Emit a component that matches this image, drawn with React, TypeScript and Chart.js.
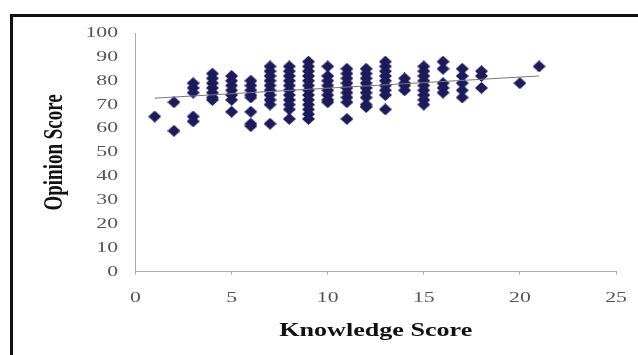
import React, { useEffect, useRef } from "react";
import { Chart, registerables } from "chart.js";

Chart.register(...registerables);

const knowledgeScores = [1, 2, 3, 4, 5, 6, 7, 8, 9, 10, 11, 12, 13, 14, 15, 16, 17, 18, 20, 21];
const opinionScores: number[][] = [
  [65],
  [71, 59],
  [79, 77, 75, 65, 63],
  [83, 81, 79, 77, 75, 73, 72],
  [82, 80, 78, 76, 74, 72, 67],
  [80, 78, 76, 74, 73, 67, 62, 61],
  [86, 84, 82, 80, 78, 76, 74, 72, 70, 62],
  [86, 84, 82, 80, 78, 76, 74, 72, 70, 68, 64],
  [88, 86, 84, 82, 80, 78, 76, 74, 72, 70, 68, 66, 64],
  [86, 82, 80, 78, 76, 74, 72, 71],
  [85, 83, 81, 79, 77, 75, 73, 71, 64],
  [85, 83, 81, 79, 77, 75, 73, 70, 69],
  [88, 86, 84, 82, 80, 78, 76, 74, 68],
  [81, 79, 78, 76],
  [86, 84, 82, 80, 78, 76, 74, 72, 70],
  [88, 85, 79, 77, 75],
  [85, 82, 79, 76, 73],
  [84, 82, 77],
  [79],
  [86],
];
const trendX = [1, 21];
const trendY = [72.7, 82.0];
const xTicks = [0, 5, 10, 15, 20, 25];
const yTicks = [0, 10, 20, 30, 40, 50, 60, 70, 80, 90, 100];
const xTitle = "Knowledge Score";
const yTitle = "Opinion Score";

const SERIF = "'Liberation Serif', 'DejaVu Serif', serif";
const STRETCH = 1.45;

function makeDiamond(w: number, h: number, color: string) {
  const c = document.createElement("canvas");
  c.width = w;
  c.height = h;
  const g = c.getContext("2d")!;
  g.fillStyle = color;
  g.beginPath();
  g.moveTo(w / 2, 0);
  g.lineTo(w, h / 2);
  g.lineTo(w / 2, h);
  g.lineTo(0, h / 2);
  g.closePath();
  g.fill();
  return c;
}

const stretchedText = {
  id: "stretchedText",
  afterDraw(chart: any) {
    const ctx = chart.ctx as CanvasRenderingContext2D;
    const xs = chart.scales.x;
    const ys = chart.scales.y;
    const put = (text: string, x: number, y: number, font: string, color: string, align: CanvasTextAlign, rot = 0) => {
      ctx.save();
      ctx.translate(x, y);
      ctx.scale(STRETCH, 1);
      if (rot) ctx.rotate(rot);
      ctx.font = font;
      ctx.fillStyle = color;
      ctx.textAlign = align;
      ctx.textBaseline = "middle";
      ctx.fillText(text, 0, 0);
      ctx.restore();
    };
    const tickFont = `15px ${SERIF}`;
    xTicks.forEach((v) => put(String(v), xs.getPixelForValue(v), 298, tickFont, "#555", "center"));
    yTicks.forEach((v) => put(String(v), 118, ys.getPixelForValue(v), tickFont, "#555", "right"));
    const cx = (chart.chartArea.left + chart.chartArea.right) / 2;
    const cy = (chart.chartArea.top + chart.chartArea.bottom) / 2;
    put(xTitle, cx, 331, `bold 18px ${SERIF}`, "#111", "center");
    put(yTitle, 55, cy, `bold 19px ${SERIF}`, "#111", "center", -Math.PI / 2);
  },
};

export default function App() {
  const ref = useRef<HTMLCanvasElement | null>(null);
  useEffect(() => {
    if (!ref.current) return;
    const points: { x: number; y: number }[] = [];
    knowledgeScores.forEach((k, i) => {
      opinionScores[i].forEach((o) => points.push({ x: k, y: o }));
    });
    const trend = trendX.map((x, i) => ({ x, y: trendY[i] }));
    const diamond = makeDiamond(13, 12, "#1c1c5c");
    const chart = new Chart(ref.current, {
      type: "scatter",
      data: {
        datasets: [
          {
            type: "line",
            data: trend,
            borderColor: "#777",
            borderWidth: 1,
            pointRadius: 0,
            fill: false,
            order: 0,
          } as any,
          {
            data: points,
            pointStyle: diamond as any,
            pointRadius: 6,
            backgroundColor: "#1c1c5c",
            borderColor: "#1c1c5c",
            order: 1,
          },
        ],
      },
      options: {
        animation: false,
        responsive: false,
        maintainAspectRatio: false,
        layout: { padding: { top: 33, right: 22, left: 0, bottom: 0 } },
        plugins: { legend: { display: false }, tooltip: { enabled: false } },
        scales: {
          x: {
            type: "linear",
            min: 0,
            max: 25,
            afterBuildTicks: (s: any) => {
              s.ticks = xTicks.map((v) => ({ value: v }));
            },
            afterFit: (s: any) => {
              s.height = 83.3;
            },
            ticks: { display: false },
            grid: { display: true, drawOnChartArea: false, drawTicks: true, tickLength: 3, color: "#aaa" },
            border: { display: true, color: "#aaa", width: 1 },
            title: { display: false },
          },
          y: {
            type: "linear",
            min: 0,
            max: 100,
            afterBuildTicks: (s: any) => {
              s.ticks = yTicks.map((v) => ({ value: v }));
            },
            afterFit: (s: any) => {
              s.width = 135.5;
            },
            ticks: { display: false },
            grid: { display: false, drawOnChartArea: false, drawTicks: false },
            border: { display: true, color: "#aaa", width: 1 },
            title: { display: false },
          },
        },
      },
      plugins: [stretchedText],
    });
    return () => chart.destroy();
  }, []);
  return (
    <div style={{ position: "absolute", left: 0, top: 0, width: 638, height: 355, background: "#fff", overflow: "hidden" }}>
      <div
        style={{
          position: "absolute",
          left: 10,
          top: 14,
          width: 640,
          height: 360,
          borderLeft: "3px solid #111",
          borderTop: "3px solid #111",
        }}
      />
      <canvas ref={ref} width={638} height={355} style={{ position: "absolute", left: 0, top: 0 }} />
    </div>
  );
}
